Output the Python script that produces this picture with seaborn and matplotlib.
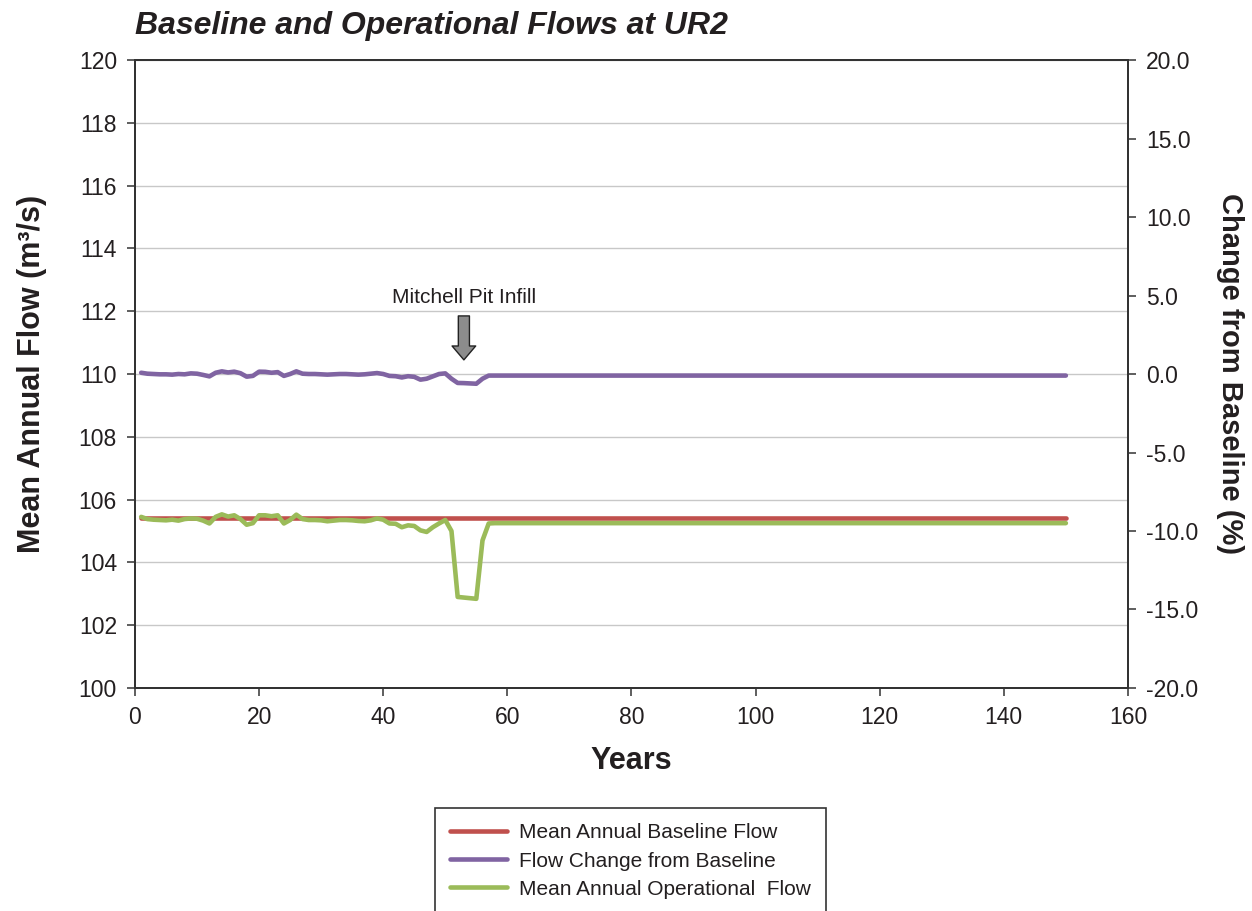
import numpy as np
import pandas as pd
import matplotlib
matplotlib.use("Agg")
import matplotlib.pyplot as plt
from matplotlib.ticker import FormatStrFormatter
import seaborn as sns

# ---- data -------------------------------------------------------------
years = list(range(1, 151))

baseline_flow = [105.4] * 150  # m3/s, constant over the record

# operational flow, years 1-57 (after year 57 flow settles at 105.25)
operational_first = [
    105.45, 105.38, 105.36, 105.35, 105.34, 105.36, 105.33, 105.38, 105.40, 105.39,
    105.33, 105.24, 105.45, 105.53, 105.46, 105.50, 105.38, 105.20, 105.25, 105.50,
    105.50, 105.47, 105.50, 105.24, 105.35, 105.52, 105.38, 105.35, 105.35, 105.34,
    105.31, 105.33, 105.35, 105.35, 105.34, 105.32, 105.31, 105.34, 105.40, 105.36,
    105.24, 105.23, 105.12, 105.18, 105.16, 105.02, 104.97, 105.12, 105.24, 105.35,
    105.00, 102.90, 102.88, 102.86, 102.84, 104.70, 105.24,
]
operational_flow = operational_first + [105.25] * (150 - len(operational_first))

# change from baseline (%), years 1-57, then steady at -0.1 %
change_first = [
    0.08, 0.02, 0.00, -0.02, -0.02, -0.04, 0.00, -0.02, 0.04, 0.02,
    -0.06, -0.15, 0.08, 0.17, 0.10, 0.15, 0.05, -0.17, -0.12, 0.15,
    0.14, 0.08, 0.12, -0.12, 0.00, 0.17, 0.02, 0.00, 0.00, -0.02,
    -0.04, -0.02, 0.00, 0.00, -0.02, -0.04, -0.02, 0.02, 0.06, 0.00,
    -0.12, -0.14, -0.22, -0.14, -0.18, -0.36, -0.30, -0.15, 0.00, 0.04,
    -0.30, -0.57, -0.58, -0.60, -0.62, -0.30, -0.10,
]
change_pct = change_first + [-0.10] * (150 - len(change_first))

series_labels = [
    "Mean Annual Baseline Flow",
    "Flow Change from Baseline",
    "Mean Annual Operational  Flow",
]
left_ticks = list(range(100, 121, 2))
right_ticks = [-20, -15, -10, -5, 0, 5, 10, 15, 20]
x_ticks = list(range(0, 161, 20))

df = pd.DataFrame({
    "year": years,
    "baseline": baseline_flow,
    "operational": operational_flow,
    "change": change_pct,
})

# ---- styling ----------------------------------------------------------
sns.set_style("ticks")
plt.rcParams["font.family"] = ["Liberation Sans", "DejaVu Sans"]
plt.rcParams["axes.unicode_minus"] = False

RED = "#C0504D"
PURPLE = "#8064A2"
GREEN = "#9BBB59"
TEXT = "#231F20"

fig = plt.figure(figsize=(12.52, 9.11), dpi=100)
ax = fig.add_axes([0.1078, 0.2448, 0.7931, 0.6893])
ax2 = ax.twinx()

sns.lineplot(data=df, x="year", y="baseline", ax=ax, color=RED, lw=3.3,
             legend=False, label=series_labels[0], solid_capstyle="round")
sns.lineplot(data=df, x="year", y="operational", ax=ax, color=GREEN, lw=3.3,
             legend=False, label=series_labels[2], solid_capstyle="round")
sns.lineplot(data=df, x="year", y="change", ax=ax2, color=PURPLE, lw=3.3,
             legend=False, label=series_labels[1], solid_capstyle="round")

ax.set_xlim(0, 160)
ax.set_ylim(100, 120)
ax2.set_ylim(-20, 20)
ax.set_xticks(x_ticks)
ax.set_yticks(left_ticks)
ax2.set_yticks(right_ticks)
ax2.yaxis.set_major_formatter(FormatStrFormatter("%.1f"))

ax.set_axisbelow(True)
ax.yaxis.grid(True, color="#C8C8C8", lw=1.0)
ax.xaxis.grid(False)
ax2.grid(False)

for a in (ax, ax2):
    for s in a.spines.values():
        s.set_visible(True)
        s.set_color("#333333")
        s.set_linewidth(1.4)
    a.tick_params(direction="out", length=6, width=1.1, colors="#333333",
                  labelcolor=TEXT, labelsize=16.5, pad=7)

ax.set_xlabel("Years", fontsize=22, fontweight="bold", color=TEXT, labelpad=12)
ax.set_ylabel("Mean Annual Flow (m³/s)", fontsize=22, fontweight="bold",
              color=TEXT, labelpad=23)
ax2.set_ylabel("Change from Baseline (%)", fontsize=21, fontweight="bold",
               color=TEXT, rotation=270, va="bottom", labelpad=13)

fig.text(0.108, 0.9715, "Baseline and Operational Flows at UR2", fontsize=23,
         fontweight="bold", fontstyle="italic", color=TEXT, ha="left", va="center")

# event marker
ax.text(53, 112.45, "Mitchell Pit Infill", fontsize=15, color=TEXT,
        ha="center", va="center")
ax.annotate("", xy=(53, 110.45), xytext=(53, 111.85),
            arrowprops=dict(facecolor="#8C8C8C", edgecolor="#222222", lw=1,
                            width=8, headwidth=17, headlength=10, shrink=0))

# legend gathering both axes
h1, l1 = ax.get_legend_handles_labels()
h2, l2 = ax2.get_legend_handles_labels()
lookup = dict(zip(l1 + l2, h1 + h2))
handles = [lookup[name] for name in series_labels]
leg = fig.legend(handles, series_labels, loc="upper center",
                 bbox_to_anchor=(0.5036, 0.1133), fontsize=15, frameon=True,
                 fancybox=False, edgecolor="#333333", framealpha=1,
                 handlelength=2.7, handletextpad=0.58, labelspacing=0.44,
                 borderpad=0.75, borderaxespad=0)
leg.get_frame().set_linewidth(1.2)
for t in leg.get_texts():
    t.set_color(TEXT)

fig.savefig("out.png", dpi=100)
